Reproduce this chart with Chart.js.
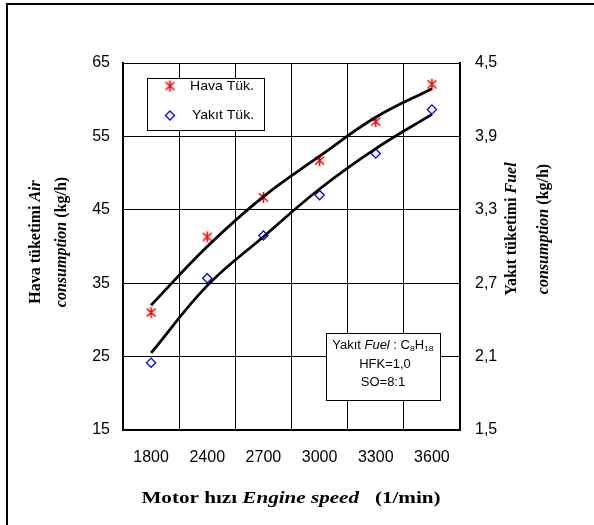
<!DOCTYPE html>
<html>
<head>
<meta charset="utf-8">
<script src="https://cdn.jsdelivr.net/npm/chart.js@4"></script>
<style>
    body { margin: 0; background: #fff; }
    canvas { display: block; }
</style>
</head>
<body>
<canvas id="chart" width="594" height="525"></canvas>
<script>
// Motor devri (1/min)
const speeds = ['1800', '2400', '2700', '3000', '3300', '3600'];
// ölçülen değerler
const airUse = [31.0, 41.3, 46.7, 51.7, 57.0, 62.1];      // kg/h, sol eksen
const fuelUse = [2.05, 2.74, 3.09, 3.42, 3.76, 4.12];     // kg/h, sağ eksen
// eğilim eğrileri
const airTrend = [32.0, 40.0, 46.8, 52.3, 57.6, 61.5];
const fuelTrend = [2.13, 2.68, 3.08, 3.47, 3.80, 4.08];
// eksen etiketleri
const airTicks = [15, 25, 35, 45, 55, 65];
const fuelTicks = [1.5, 2.1, 2.7, 3.3, 3.9, 4.5];

const RED = '#ff0000';
const BLUE = '#0000ff';
const SERIF = '"Liberation Serif", "Times New Roman", serif';
const SANS = '"Liberation Sans", Arial, sans-serif';

// Excel tarzı yıldız işareti
const star = document.createElement('canvas');
star.width = 13;
star.height = 13;
(function () {
    const c = star.getContext('2d');
    c.strokeStyle = RED;
    c.lineWidth = 1.6;
    c.beginPath();
    c.moveTo(6.5, 1); c.lineTo(6.5, 12);
    c.moveTo(2, 2.5); c.lineTo(11, 10.5);
    c.moveTo(11, 2.5); c.lineTo(2, 10.5);
    c.stroke();
})();

function drawRich(ctx, parts, x, y, rot, sx) {
    ctx.save();
    ctx.translate(x, y);
    if (rot) ctx.rotate(rot);
    ctx.scale(sx || 1, 1);
    ctx.textBaseline = 'middle';
    ctx.textAlign = 'left';
    ctx.fillStyle = '#000';
    let total = 0;
    parts.forEach(p => { ctx.font = p.font; total += ctx.measureText(p.text).width; });
    let cx = -total / 2;
    parts.forEach(p => {
        ctx.font = p.font;
        ctx.fillText(p.text, cx, p.dy || 0);
        cx += ctx.measureText(p.text).width;
    });
    ctx.restore();
}

const decor = {
    id: 'decor',
    afterDraw(chart) {
        const ctx = chart.ctx;
        const b = 'bold 16px ' + SERIF;
        const bi = 'italic bold 16px ' + SERIF;

        // dış çerçeve
        ctx.save();
        ctx.strokeStyle = '#000';
        ctx.lineWidth = 2;
        ctx.beginPath();
        ctx.moveTo(7, 525); ctx.lineTo(7, 4); ctx.lineTo(594, 4);
        ctx.stroke();
        ctx.restore();

        // eksen başlıkları
        drawRich(ctx, [{ text: 'Hava tüketimi ', font: b }, { text: 'Air', font: bi }], 36, 242, -Math.PI / 2);
        drawRich(ctx, [{ text: 'consumption', font: bi }, { text: ' (kg/h)', font: b }], 62, 242, -Math.PI / 2);
        drawRich(ctx, [{ text: 'Yakıt tüketimi ', font: b }, { text: 'Fuel', font: bi }], 512, 229, -Math.PI / 2);
        drawRich(ctx, [{ text: 'consumption', font: bi }, { text: ' (kg/h)', font: b }], 544, 229, -Math.PI / 2);
        drawRich(ctx, [
            { text: 'Motor hızı ', font: b },
            { text: 'Engine speed', font: bi },
            { text: '   (1/min)', font: b }
        ], 291, 499, 0, 1.32);

        // lejant
        ctx.save();
        ctx.fillStyle = '#fff';
        ctx.fillRect(147, 78, 117, 52);
        ctx.strokeStyle = '#000';
        ctx.lineWidth = 1;
        ctx.strokeRect(147.5, 78.5, 117, 52);
        ctx.drawImage(star, 170 - 6.5, 86 - 6.5);
        ctx.strokeStyle = BLUE;
        ctx.lineWidth = 1.3;
        ctx.beginPath();
        ctx.moveTo(170, 111); ctx.lineTo(174.5, 115.5); ctx.lineTo(170, 120); ctx.lineTo(165.5, 115.5);
        ctx.closePath();
        ctx.stroke();
        ctx.restore();
        const lf = '13px ' + SANS;
        drawRich(ctx, [{ text: 'Hava Tük.', font: lf }], 222, 86, 0, 1.08);
        drawRich(ctx, [{ text: 'Yakıt Tük.', font: lf }], 223, 115.5, 0, 1.08);

        // yakıt bilgi kutusu
        ctx.save();
        ctx.fillStyle = '#fff';
        ctx.fillRect(326, 333, 114, 67);
        ctx.strokeStyle = '#000';
        ctx.lineWidth = 1;
        ctx.strokeRect(326.5, 333.5, 114, 67);
        ctx.restore();
        const s = '12px ' + SANS;
        const small = '8px ' + SANS;
        drawRich(ctx, [
            { text: 'Yakıt ', font: s },
            { text: 'Fuel', font: 'italic 12px ' + SANS },
            { text: ' : C', font: s },
            { text: '8', font: small, dy: 3 },
            { text: 'H', font: s },
            { text: '18', font: small, dy: 3 }
        ], 383, 346, 0, 1.08);
        drawRich(ctx, [{ text: 'HFK=1,0', font: s }], 385, 365, 0, 1.08);
        drawRich(ctx, [{ text: 'SO=8:1', font: s }], 383, 383, 0, 1.08);
    }
};

new Chart(document.getElementById('chart'), {
    type: 'line',
    data: {
        labels: speeds,
        datasets: [
            {
                label: 'Hava Tük.',
                data: airUse,
                yAxisID: 'y',
                showLine: false,
                pointStyle: star,
                pointRadius: 6,
                order: 2
            },
            {
                label: 'Yakıt Tük.',
                data: fuelUse,
                yAxisID: 'y1',
                showLine: false,
                pointStyle: 'rectRot',
                pointRadius: 4.6,
                pointBorderColor: BLUE,
                pointBackgroundColor: 'rgba(0,0,0,0)',
                pointBorderWidth: 1.3,
                order: 2
            },
            {
                label: 'air trend',
                data: airTrend,
                yAxisID: 'y',
                borderColor: '#000',
                borderWidth: 2.8,
                pointRadius: 0,
                tension: 0.4,
                order: 1
            },
            {
                label: 'fuel trend',
                data: fuelTrend,
                yAxisID: 'y1',
                borderColor: '#000',
                borderWidth: 2.8,
                pointRadius: 0,
                tension: 0.4,
                order: 1
            }
        ]
    },
    options: {
        responsive: false,
        animation: false,
        layout: { padding: { top: 63, left: 0, right: 0, bottom: 0 } },
        plugins: {
            legend: { display: false },
            tooltip: { enabled: false }
        },
        scales: {
            x: {
                offset: true,
                grid: { offset: true, color: '#000', lineWidth: 1, drawTicks: false },
                border: { color: '#000', width: 2 },
                ticks: { color: '#000', font: { family: SANS, size: 16 }, padding: 18, maxRotation: 0 },
                afterFit: scale => { scale.height = 95; }
            },
            y: {
                position: 'left',
                min: 15,
                max: 65,
                afterBuildTicks: axis => { axis.ticks = airTicks.map(v => ({ value: v })); },
                grid: { color: '#000', lineWidth: 1, drawTicks: false },
                border: { color: '#000', width: 2 },
                ticks: { color: '#000', font: { family: SANS, size: 16 }, padding: 13 },
                afterFit: scale => { scale.width = 123; }
            },
            y1: {
                position: 'right',
                min: 1.5,
                max: 4.5,
                afterBuildTicks: axis => { axis.ticks = fuelTicks.map(v => ({ value: v })); },
                grid: { drawOnChartArea: false, drawTicks: false },
                border: { color: '#000', width: 2 },
                ticks: {
                    color: '#000',
                    font: { family: SANS, size: 16 },
                    padding: 15,
                    callback: v => v.toFixed(1).replace('.', ',')
                },
                afterFit: scale => { scale.width = 134; }
            }
        }
    },
    plugins: [decor]
});
</script>
</body>
</html>
